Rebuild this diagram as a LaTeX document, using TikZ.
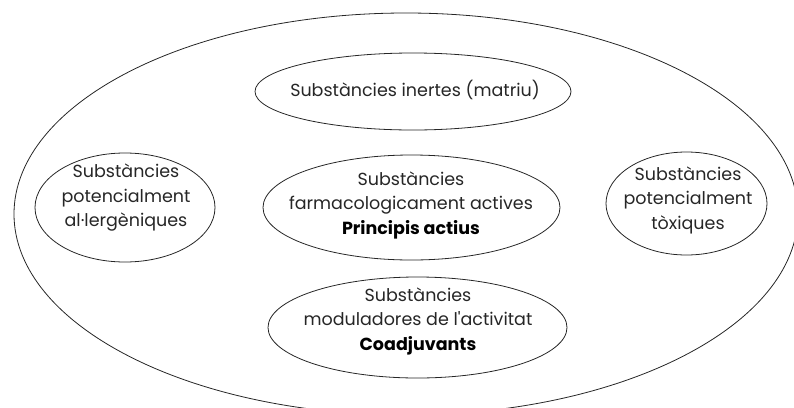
\documentclass[tikz,border=0pt]{standalone}
\usepackage{fontspec}
\setmainfont{Poppins}[Ligatures=TeXOff]
\usetikzlibrary{shapes.geometric}
\begin{document}
\begin{tikzpicture}[x=1pt,y=-1pt,
  oval/.style={draw=black!85,line width=0.8pt,ellipse,inner sep=0pt},
  txt/.style={align=center,inner sep=0pt,text=black!85,font=\fontsize{17.5}{24.5}\selectfont}]
\useasboundingbox (0,0) rectangle (794,407);
\clip (0,0) rectangle (794,407);
\node[oval,minimum width=784pt,minimum height=402pt] (outer) at (406,214) {};
\node[oval,minimum width=316pt,minimum height=77pt] (inert) at (413,91.5) {};
\node[oval,minimum width=180pt,minimum height=109pt] (aller) at (125,207.5) {};
\node[oval,minimum width=297pt,minimum height=105pt] (activ) at (411.5,207.5) {};
\node[oval,minimum width=161pt,minimum height=103pt] (toxic) at (686.5,203.5) {};
\node[oval,minimum width=299pt,minimum height=101pt] (coadj) at (417.5,327.5) {};
\node[txt] (inert-t) at (415,90) {Substàncies inertes (matriu)};
\node[txt] (aller-t) at (126,198) {Substàncies\\potencialment\\al·lergèniques};
\node[txt] (activ-t) at (411,205) {Substàncies\\farmacologicament actives\\{\bfseries\color{black}Principis actius}};
\node[txt] (toxic-t) at (688,200) {Substàncies\\potencialment\\tòxiques};
\node[txt] (coadj-t) at (418,321) {Substàncies\\moduladores de l'activitat\\{\bfseries\color{black}Coadjuvants}};
\end{tikzpicture}
\end{document}
